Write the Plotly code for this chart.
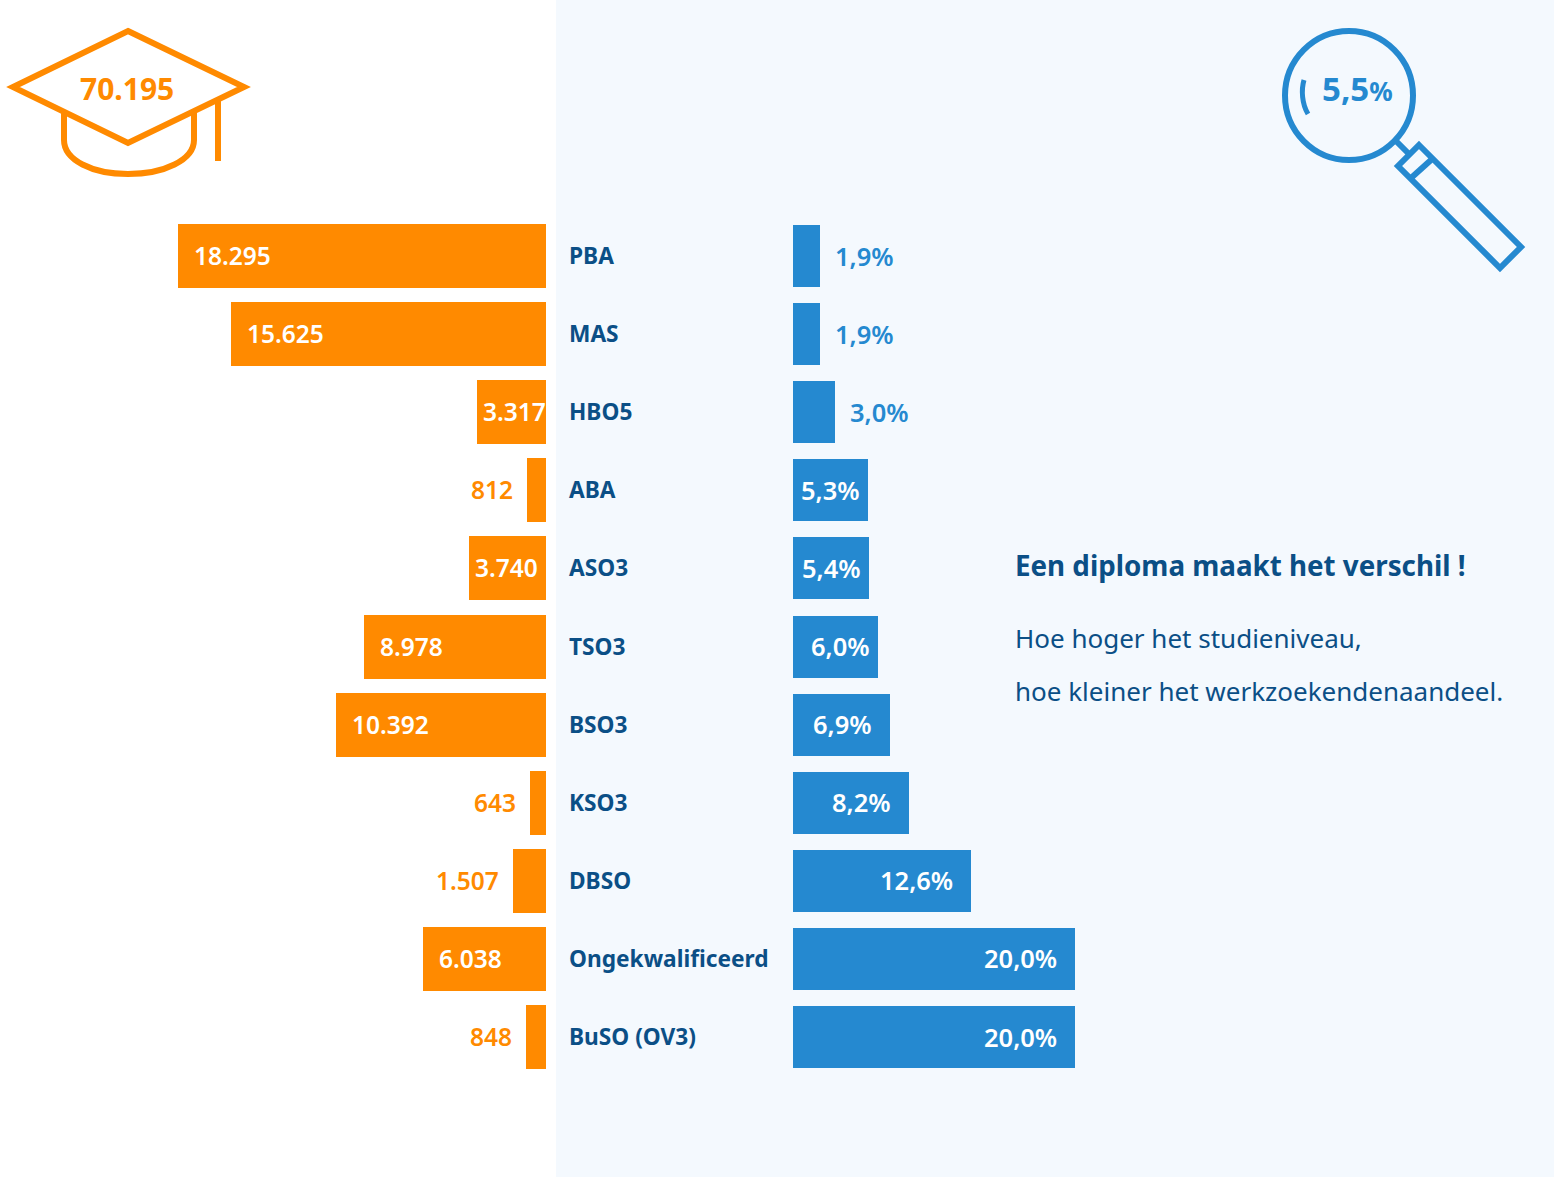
import plotly.graph_objects as go

categories = ["PBA", "MAS", "HBO5", "ABA", "ASO3", "TSO3", "BSO3", "KSO3", "DBSO", "Ongekwalificeerd", "BuSO (OV3)"]
aantal = [18295, 15625, 3317, 812, 3740, 8978, 10392, 643, 1507, 6038, 848]
aantal_labels = ["18.295", "15.625", "3.317", "812", "3.740", "8.978", "10.392", "643", "1.507", "6.038", "848"]
aandeel = [1.9, 1.9, 3.0, 5.3, 5.4, 6.0, 6.9, 8.2, 12.6, 20.0, 20.0]
aandeel_labels = ["1,9%", "1,9%", "3,0%", "5,3%", "5,4%", "6,0%", "6,9%", "8,2%", "12,6%", "20,0%", "20,0%"]
totaal_label = "70.195"
totaal_pct_label = "5,5"

W, H = 1554, 1177
ORANGE = "#ff8a00"
BLUE = "#2589d0"
NAVY = "#0b4f86"
PANEL = "#f4f9fe"
FONT = "Noto Sans"
STUB = 140  # the source bars start slightly past their axis zero
PX_PER_UNIT = 0.01996
ROW_TOP, ROW_H = 217, 78.1
ydom = [1 - (ROW_TOP + 11 * ROW_H) / H, 1 - ROW_TOP / H]

fig = go.Figure()
fig.add_trace(go.Bar(y=categories, x=[v + STUB for v in aantal], base=-STUB, orientation="h",
                     marker=dict(color=ORANGE, line_width=0), width=0.82, xaxis="x", yaxis="y",
                     hoverinfo="skip", showlegend=False))
fig.add_trace(go.Bar(y=categories, x=aandeel, orientation="h",
                     marker=dict(color=BLUE, line_width=0), width=0.795, xaxis="x2", yaxis="y2",
                     hoverinfo="skip", showlegend=False))
fig.add_trace(go.Scatter(x=[], y=[], xaxis="x3", yaxis="y3", showlegend=False))

ORANGE_LABEL_SIZE = 24.5
BLUE_LABEL_SIZE = 25.5
for cat, v, lab in zip(categories, aantal, aantal_labels):
    if v >= 3000:
        fig.add_annotation(x=v, y=cat, xref="x", yref="y", text=lab, showarrow=False, yshift=0.5,
                           xanchor="left", xshift=14 if v > 4000 else 4,
                           font=dict(color="white", size=ORANGE_LABEL_SIZE, family=FONT, weight=600))
    else:
        fig.add_annotation(x=v, y=cat, xref="x", yref="y", text=lab, showarrow=False, yshift=0.5,
                           xanchor="right", xshift=-12.5,
                           font=dict(color=ORANGE, size=ORANGE_LABEL_SIZE, family=FONT, weight=600))
for cat, v, lab in zip(categories, aandeel, aandeel_labels):
    if v < 5:
        fig.add_annotation(x=v, y=cat, xref="x2", yref="y2", text=lab, showarrow=False, yshift=0.5,
                           xanchor="left", xshift=13, font=dict(color=BLUE, size=BLUE_LABEL_SIZE, family=FONT, weight=600))
    else:
        fig.add_annotation(x=v, y=cat, xref="x2", yref="y2", text=lab, showarrow=False, yshift=0.5,
                           xanchor="right", xshift=-16 if v > 6.5 else -6,
                           font=dict(color="white", size=BLUE_LABEL_SIZE, family=FONT, weight=600))

fig.update_layout(
    width=W, height=H, margin=dict(l=0, r=0, t=0, b=0), paper_bgcolor="white", plot_bgcolor="rgba(0,0,0,0)",
    bargap=0, barmode="overlay",
    xaxis=dict(domain=[0, 546 / W], range=[546 / PX_PER_UNIT - STUB, -STUB], visible=False, fixedrange=True),
    yaxis=dict(domain=ydom, categoryorder="array", categoryarray=categories, autorange="reversed",
               visible=False, fixedrange=True),
    xaxis2=dict(domain=[793 / W, 1], anchor="y2", range=[0, (W - 793) / 14.1], visible=False, fixedrange=True),
    yaxis2=dict(domain=ydom, anchor="x2", categoryorder="array", categoryarray=categories,
                side="right", autorange="reversed", visible=False, fixedrange=True),
    xaxis3=dict(domain=[0, 1], range=[0, W], anchor="y3", visible=False, fixedrange=True),
    yaxis3=dict(domain=[0, 1], range=[H, 0], anchor="x3", visible=False, fixedrange=True),
)

# pale panel behind everything
fig.add_shape(type="rect", xref="paper", yref="paper", x0=556 / W, x1=1, y0=0, y1=1,
              fillcolor=PANEL, line_width=0, layer="below")

for i, cat in enumerate(categories):
    fig.add_annotation(x=567, y=255.5 + i * ROW_H, xref="x3", yref="y3", text="<b>%s</b>" % cat, showarrow=False,
                       xanchor="left", font=dict(color=NAVY, size=22.7, family=FONT))

# cap icon
cap = dict(xref="x3", yref="y3", line=dict(color=ORANGE, width=6), fillcolor="rgba(0,0,0,0)")
fig.add_shape(type="path", path="M128,31 L244,87 L128,143 L13,87 Z", **cap)
fig.add_shape(type="path", path="M64,113 V140 C64,160 92,174 128,174 C164,174 194,160 194,140 V113", **cap)
fig.add_shape(type="path", path="M218,100 V161", line=dict(color=ORANGE, width=6), xref="x3", yref="y3")
fig.add_annotation(x=127, y=88, xref="x3", yref="y3", text="<b>%s</b>" % totaal_label, showarrow=False,
                   font=dict(color=ORANGE, size=30, family=FONT))

# magnifier icon
mg = dict(xref="x3", yref="y3", line=dict(color=BLUE, width=6), fillcolor="rgba(0,0,0,0)")
fig.add_shape(type="circle", x0=1285, x1=1413, y0=31, y1=160, **mg)
fig.add_shape(type="path", path="M1395,140 L1408,153", **mg)
fig.add_shape(type="path", path="M1419,145 L1521,247 L1500,268 L1398,166 Z", **mg)
fig.add_shape(type="path", path="M1431,160 L1411,178", **mg)
fig.add_shape(type="path", path="M1304,80 C1301,90 1302,104 1308,114", xref="x3", yref="y3",
              line=dict(color=BLUE, width=5))
fig.add_annotation(x=1319.5, y=88, xref="x3", yref="y3", xanchor="left", showarrow=False,
                   text="<b>%s<span style='font-size:26px'>%%</span></b>" % totaal_pct_label,
                   font=dict(color=BLUE, size=33, family=FONT))

# text block
fig.add_annotation(x=1012.5, y=565, xref="x3", yref="y3", xanchor="left", showarrow=False,
                   text="<b>Een diploma maakt het verschil !</b>", font=dict(color=NAVY, size=27.75, family=FONT))
fig.add_annotation(x=1012.5, y=638, xref="x3", yref="y3", xanchor="left", showarrow=False,
                   text="Hoe hoger het studieniveau,", font=dict(color=NAVY, size=26, family=FONT))
fig.add_annotation(x=1012.5, y=691, xref="x3", yref="y3", xanchor="left", showarrow=False,
                   text="hoe kleiner het werkzoekendenaandeel.", font=dict(color=NAVY, size=26, family=FONT))

fig.write_html("out.html", post_script="document.body.style.margin='0';", config=dict(displayModeBar=False))
